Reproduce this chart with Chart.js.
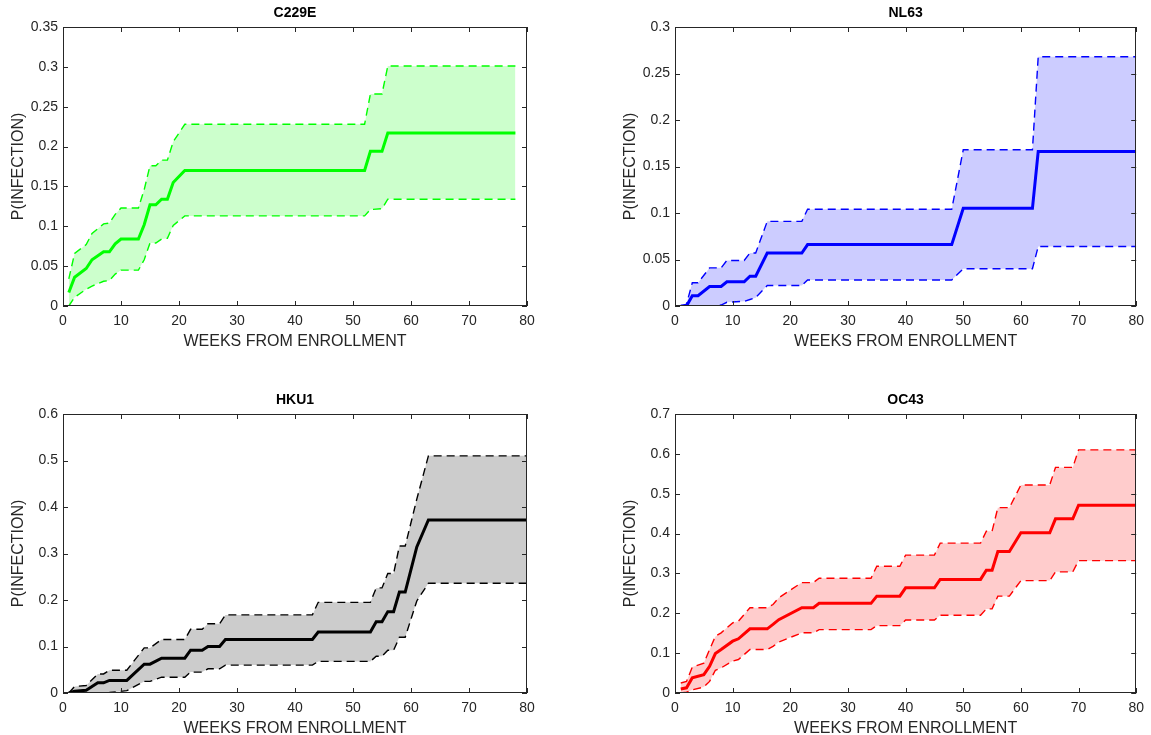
<!DOCTYPE html>
<html>
<head>
<meta charset="utf-8">
<script src="https://cdn.jsdelivr.net/npm/chart.js@4.4.1/dist/chart.umd.min.js"></script>
<style>
  html, body { margin: 0; padding: 0; background: #fff; }
  body { width: 1151px; height: 735px; position: relative; overflow: hidden; }
  canvas { position: absolute; }
</style>
</head>
<body>
<canvas id="c229e" width="575" height="352" style="left:0;top:0;width:575px;height:352px"></canvas>
<canvas id="nl63" width="539" height="352" style="left:612px;top:0;width:539px;height:352px"></canvas>
<canvas id="hku1" width="575" height="352" style="left:0;top:387px;width:575px;height:352px"></canvas>
<canvas id="oc43" width="539" height="352" style="left:612px;top:387px;width:539px;height:352px"></canvas>
<script>
  // ── Data (weeks from enrollment, cumulative P(infection) with bounds) ──
  const c229eWeeks = [1, 2, 4, 5, 7, 8, 9, 10, 13, 14, 15, 16, 17, 18, 19, 21, 52, 53, 55, 56, 78];
  const c229eMid   = [0.017, 0.036, 0.047, 0.058, 0.068, 0.068, 0.078, 0.084, 0.084, 0.102, 0.127, 0.127, 0.134, 0.134, 0.155, 0.170, 0.170, 0.194, 0.194, 0.217, 0.217];
  const c229eUpper = [0.034, 0.066, 0.077, 0.091, 0.103, 0.104, 0.115, 0.123, 0.123, 0.146, 0.176, 0.176, 0.183, 0.183, 0.206, 0.228, 0.228, 0.266, 0.266, 0.301, 0.301];
  const c229eLower = [0.000, 0.011, 0.021, 0.025, 0.031, 0.032, 0.040, 0.045, 0.045, 0.058, 0.079, 0.079, 0.084, 0.085, 0.101, 0.113, 0.113, 0.121, 0.122, 0.134, 0.134];

  const nl63Weeks = [1, 2, 3, 4, 6, 8, 9, 12, 13, 14, 16, 22, 23, 48, 50, 62, 63, 80];
  const nl63Mid   = [0, 0, 0.011, 0.011, 0.021, 0.021, 0.026, 0.026, 0.032, 0.032, 0.057, 0.057, 0.066, 0.066, 0.105, 0.105, 0.166, 0.166];
  const nl63Upper = [0, 0.002, 0.025, 0.025, 0.041, 0.041, 0.049, 0.049, 0.057, 0.057, 0.091, 0.091, 0.104, 0.104, 0.168, 0.168, 0.268, 0.268];
  const nl63Lower = [0, 0, 0, 0, 0, 0.001, 0.004, 0.005, 0.007, 0.009, 0.022, 0.022, 0.028, 0.028, 0.040, 0.040, 0.064, 0.064];

  const hku1Weeks = [1, 2, 4, 6, 7, 8, 11, 14, 15, 17, 21, 22, 24, 25, 27, 28, 43, 44, 53, 54, 55, 56, 57, 58, 59, 61, 63, 80];
  const hku1Mid   = [0, 0.004, 0.006, 0.022, 0.022, 0.027, 0.027, 0.062, 0.062, 0.075, 0.075, 0.092, 0.092, 0.100, 0.100, 0.115, 0.115, 0.131, 0.131, 0.153, 0.153, 0.175, 0.175, 0.217, 0.217, 0.314, 0.372, 0.372];
  const hku1Upper = [0, 0.014, 0.016, 0.041, 0.041, 0.049, 0.049, 0.097, 0.097, 0.115, 0.115, 0.137, 0.137, 0.149, 0.149, 0.168, 0.168, 0.195, 0.195, 0.226, 0.226, 0.257, 0.257, 0.316, 0.316, 0.417, 0.510, 0.510];
  const hku1Lower = [0, 0, 0, 0, 0, 0.001, 0.005, 0.025, 0.025, 0.034, 0.034, 0.045, 0.045, 0.052, 0.052, 0.060, 0.060, 0.068, 0.068, 0.079, 0.079, 0.092, 0.092, 0.120, 0.120, 0.198, 0.236, 0.236];

  const oc43Weeks = [1, 2, 3, 5, 6, 7, 8, 10, 11, 13, 16, 17, 18, 22, 24, 25, 34, 35, 39, 40, 45, 46, 53, 54, 55, 56, 58, 60, 65, 66, 69, 70, 80];
  const oc43Mid   = [0.010, 0.013, 0.038, 0.046, 0.067, 0.099, 0.109, 0.130, 0.136, 0.161, 0.161, 0.172, 0.184, 0.214, 0.214, 0.225, 0.225, 0.243, 0.243, 0.264, 0.264, 0.285, 0.285, 0.308, 0.308, 0.355, 0.355, 0.402, 0.402, 0.437, 0.437, 0.471, 0.471];
  const oc43Upper = [0.025, 0.029, 0.065, 0.075, 0.109, 0.142, 0.151, 0.176, 0.180, 0.214, 0.214, 0.222, 0.239, 0.277, 0.277, 0.288, 0.288, 0.318, 0.318, 0.346, 0.346, 0.376, 0.376, 0.406, 0.406, 0.465, 0.465, 0.522, 0.522, 0.566, 0.566, 0.610, 0.610];
  const oc43Lower = [0, 0.002, 0.008, 0.015, 0.029, 0.057, 0.063, 0.080, 0.084, 0.109, 0.109, 0.117, 0.128, 0.151, 0.151, 0.159, 0.159, 0.169, 0.169, 0.183, 0.183, 0.195, 0.195, 0.211, 0.211, 0.243, 0.243, 0.282, 0.282, 0.304, 0.304, 0.332, 0.332];

  const xTicks = [0, 10, 20, 30, 40, 50, 60, 70, 80];

  // ── Look ──
  const AXIS = '#262626';
  const FONT = "'Liberation Sans', Arial, Helvetica, sans-serif";
  Chart.defaults.font.family = FONT;
  Chart.defaults.color = AXIS;

  // MATLAB-style box with inward ticks on all four sides, title centred on the axes
  const matlabBox = {
    id: 'matlabBox',
    afterDatasetsDraw(chart, args, opts) {
      const { ctx, chartArea: a, scales: { x, y } } = chart;
      const len = 5;
      ctx.save();
      ctx.strokeStyle = AXIS;
      ctx.lineWidth = 1;
      ctx.beginPath();
      x.ticks.forEach(t => {
        const px = Math.round(x.getPixelForValue(t.value)) + 0.5;
        ctx.moveTo(px, a.bottom); ctx.lineTo(px, a.bottom - len);
        ctx.moveTo(px, a.top); ctx.lineTo(px, a.top + len);
      });
      y.ticks.forEach(t => {
        const py = Math.round(y.getPixelForValue(t.value)) + 0.5;
        ctx.moveTo(a.left, py); ctx.lineTo(a.left + len, py);
        ctx.moveTo(a.right, py); ctx.lineTo(a.right - len, py);
      });
      ctx.stroke();
      ctx.strokeRect(Math.round(a.left) + 0.5, Math.round(a.top) + 0.5,
        Math.round(a.width) - 1, Math.round(a.height) - 1);

      ctx.fillStyle = '#000';
      ctx.font = 'bold 14px ' + FONT;
      ctx.textAlign = 'center';
      ctx.textBaseline = 'middle';
      ctx.fillText(opts.text, (a.left + a.right) / 2, a.top - 14);
      ctx.restore();
    },
  };

  function pts(weeks, vals) {
    return weeks.map((w, i) => ({ x: w, y: vals[i] }));
  }

  function panel(id, title, weeks, mid, upper, lower, color, band, yMax, yStep, padRight) {
    const dashed = {
      borderColor: color,
      borderWidth: 1.4,
      borderDash: [8, 5],
      pointRadius: 0,
      tension: 0,
    };
    new Chart(document.getElementById(id), {
      type: 'line',
      data: {
        datasets: [
          { data: pts(weeks, mid), borderColor: color, borderWidth: 3, pointRadius: 0, tension: 0, fill: false },
          { ...dashed, data: pts(weeks, upper), fill: '+1', backgroundColor: band },
          { ...dashed, data: pts(weeks, lower), fill: false },
        ],
      },
      options: {
        responsive: false,
        animation: false,
        devicePixelRatio: 1,
        layout: { padding: { left: 0, right: padRight, top: 27, bottom: 0 } },
        plugins: {
          legend: { display: false },
          tooltip: { enabled: false },
          title: { display: false },
          filler: { drawTime: 'beforeDatasetsDraw' },
          matlabBox: { text: title },
        },
        scales: {
          x: {
            type: 'linear',
            min: 0,
            max: 80,
            afterBuildTicks: s => { s.ticks = xTicks.map(v => ({ value: v })); },
            grid: { display: false, drawTicks: false, tickLength: 0 },
            border: { display: false },
            ticks: { font: { size: 14 }, padding: 7, maxRotation: 0 },
            title: {
              display: true,
              text: 'WEEKS FROM ENROLLMENT',
              font: { size: 16 },
              padding: { top: 0, bottom: 0.4 },
            },
            afterFit: s => { s.height = 46; },
          },
          y: {
            type: 'linear',
            min: 0,
            max: yMax,
            grid: { display: false, drawTicks: false, tickLength: 0 },
            border: { display: false },
            ticks: {
              stepSize: yStep,
              font: { size: 14 },
              padding: 5,
              callback: v => String(+v.toFixed(3)),
            },
            title: {
              display: true,
              text: 'P(INFECTION)',
              font: { size: 16 },
              padding: { top: 9, bottom: 0 },
            },
            afterFit: s => { s.width = 63; },
          },
        },
      },
      plugins: [matlabBox],
    });
  }

  // ── Boot ──
  panel('c229e', 'C229E', c229eWeeks, c229eMid, c229eUpper, c229eLower, '#00ff00', '#ccffcc', 0.35, 0.05, 48);
  panel('nl63', 'NL63', nl63Weeks, nl63Mid, nl63Upper, nl63Lower, '#0000ff', '#ccccff', 0.3, 0.05, 13);
  panel('hku1', 'HKU1', hku1Weeks, hku1Mid, hku1Upper, hku1Lower, '#000000', '#cccccc', 0.6, 0.1, 48);
  panel('oc43', 'OC43', oc43Weeks, oc43Mid, oc43Upper, oc43Lower, '#ff0000', '#ffcccc', 0.7, 0.1, 13);
</script>
</body>
</html>
